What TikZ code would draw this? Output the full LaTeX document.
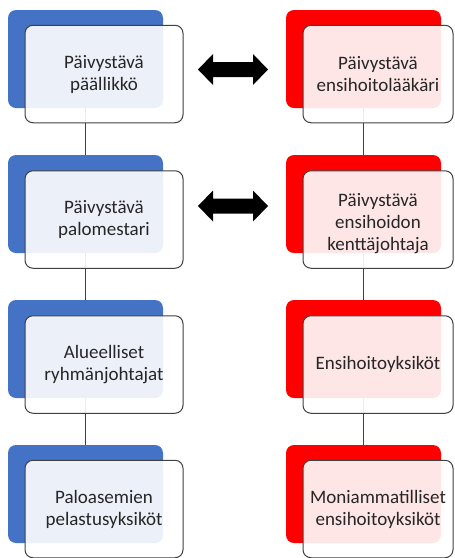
\documentclass[tikz,border=0pt]{standalone}
\usepackage{fontspec}
\setmainfont{Carlito}
\definecolor{bblue}{HTML}{4472C4}
\definecolor{bred}{HTML}{FF0000}
\definecolor{edge}{HTML}{404040}
\definecolor{txt}{HTML}{262626}
\tikzset{
  back/.style={rounded corners=8pt, minimum width=155pt, minimum height=98pt, inner sep=0pt},
  bluebox/.style={back, fill=bblue},
  redbox/.style={back, fill=bred},
  front/.style={rounded corners=8pt, fill=white, fill opacity=0.9, text opacity=1, draw=edge, line width=1pt,
     minimum height=97.5pt, inner sep=0pt, align=center, text=txt, font=\fontsize{19}{22}\selectfont},
  leftfront/.style={front, minimum width=158pt},
  rightfront/.style={front, minimum width=150pt},
  conn/.style={draw=edge, line width=0.9pt},
  bigarrow/.style={fill=black}
}
\begin{document}
\begin{tikzpicture}[x=1pt,y=-1pt]
\useasboundingbox (0,0) rectangle (455,558);
% back shapes
\foreach \i in {0,1,2,3}{
  \node[bluebox] (b\i) at (85.5,{59+145*\i}) {};
  \node[redbox] (r\i) at (363.5,{59+145*\i}) {};
}
% connectors
\draw[conn] (b0.south) -- (b1.north);
\draw[conn] (b1.south) -- (b2.north);
\draw[conn] (b2.south) -- (b3.north);
\draw[conn] (r0.south) -- (r1.north);
\draw[conn] (r1.south) -- (r2.north);
\draw[conn] (r2.south) -- (r3.north);
% front boxes
\node[leftfront] (f0) at (104,{25+49}) {Päivystävä\\päällikkö};
\node[leftfront] (f1) at (104,{170.5+49}) {Päivystävä\\palomestari};
\node[leftfront] (f2) at (104,{315.5+49}) {Alueelliset\\ryhmänjohtajat};
\node[leftfront] (f3) at (104,{460+49}) {Paloasemien\\pelastusyksiköt};
\node[rightfront] (g0) at (378,{25+49}) {Päivystävä\\ensihoitolääkäri};
\node[rightfront] (g1) at (378,{170.5+49}) {\rule{0pt}{22pt}Päivystävä\\ensihoidon\\kenttäjohtaja};
\node[rightfront] (g2) at (378,{315.5+49}) {Ensihoitoyksiköt};
\node[rightfront] (g3) at (378,{460+49}) {Moniammatilliset\\ensihoitoyksiköt};
% double block arrows
\coordinate (a0) at (233,69.5);
\coordinate (a1) at (233,206);
\foreach \a in {a0,a1}{
  \fill[bigarrow] ([xshift=-35pt]\a) -- ++(15,-15.5) -- ++(0,8) -- ++(40,0) -- ++(0,-8)
     -- ++(15,15.5) -- ++(-15,15.5) -- ++(0,-8) -- ++(-40,0) -- ++(0,8) -- cycle;
}
\end{tikzpicture}
\end{document}
